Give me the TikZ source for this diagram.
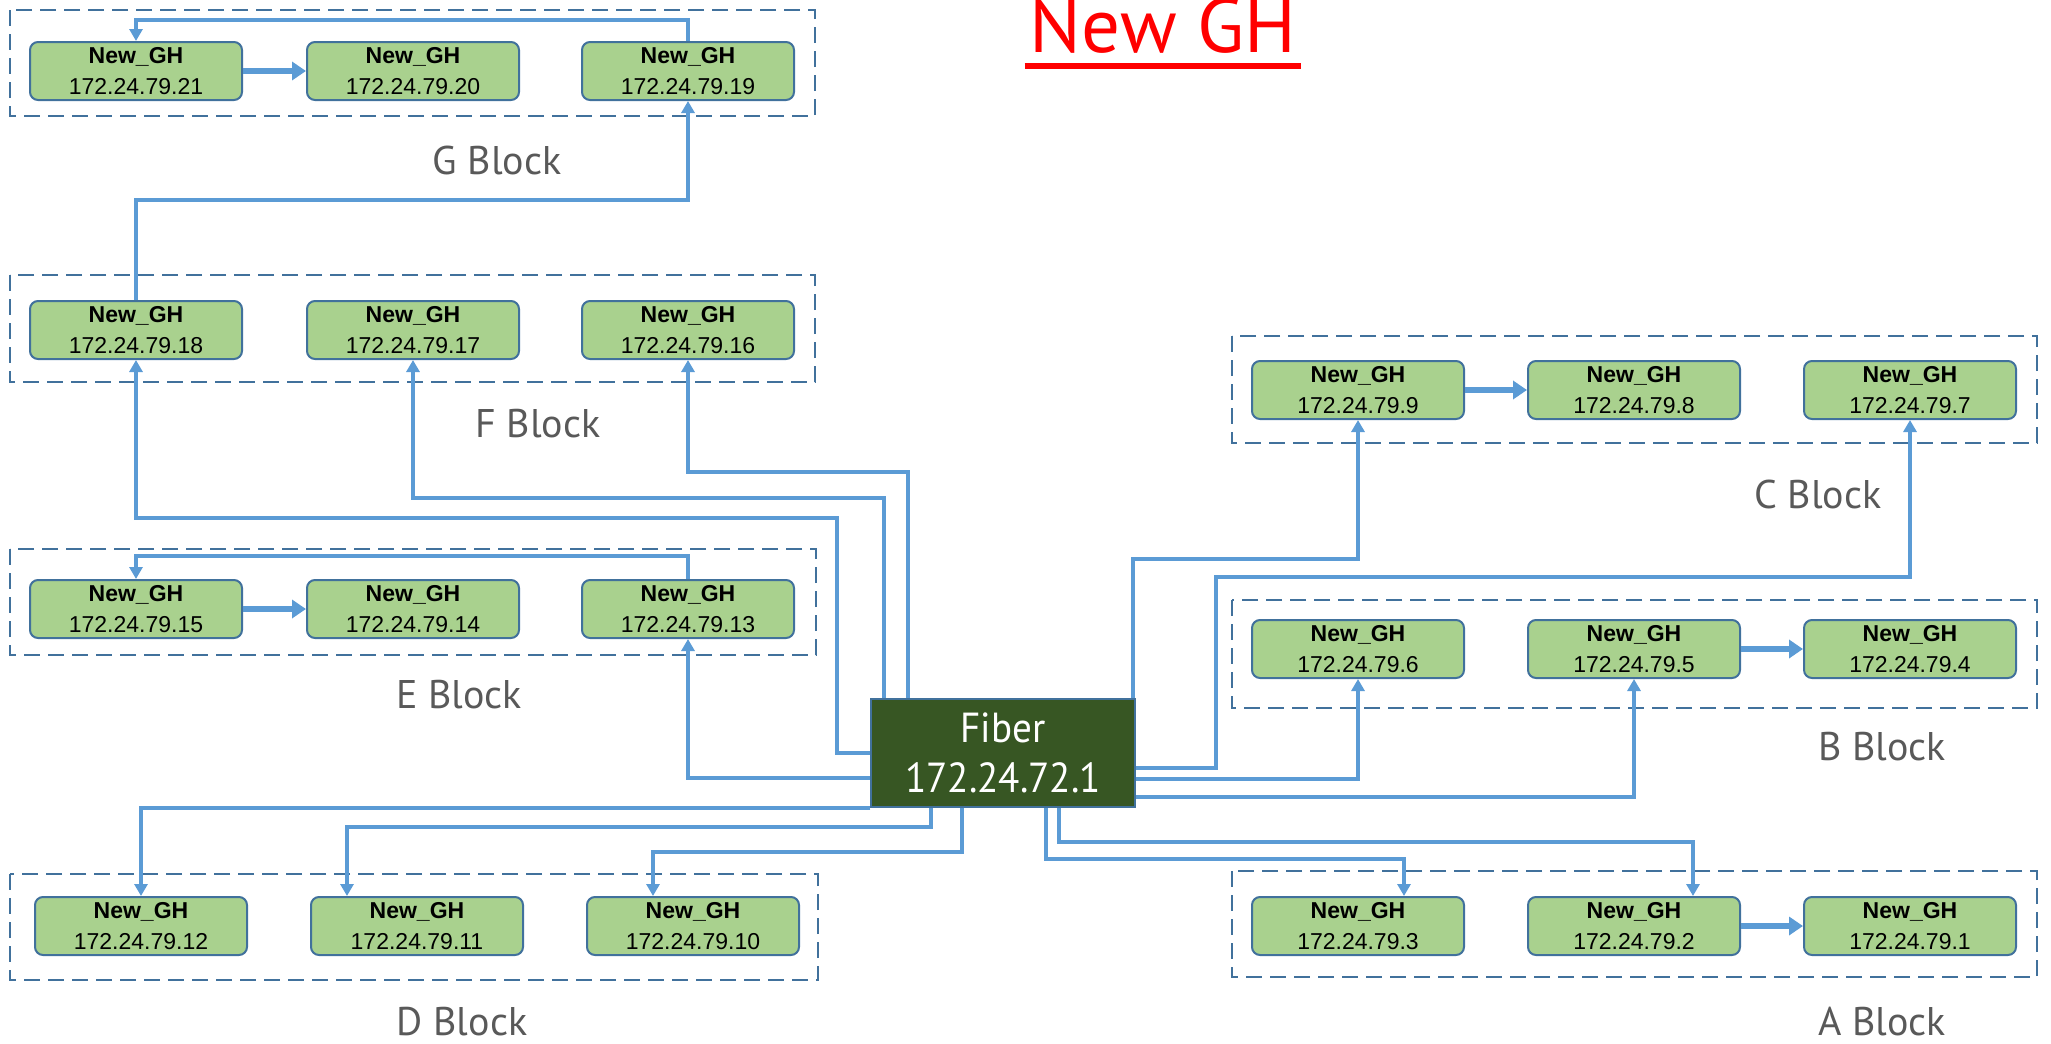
\documentclass[tikz,border=0pt]{standalone}
\usepackage{fontspec}
\usepackage{graphicx}
\setmainfont{Liberation Sans}
\newfontfamily\ptsans{PT Sans}
\usetikzlibrary{arrows.meta}
\definecolor{boxfill}{HTML}{A9D18E}
\definecolor{boxline}{HTML}{41719C}
\definecolor{linkblue}{HTML}{5B9BD5}
\definecolor{fibergreen}{HTML}{375623}
\definecolor{labelgray}{HTML}{595959}
\begin{document}
\begin{tikzpicture}[x=0.5pt,y=-0.5pt,
  gh/.style={draw=boxline, line width=1pt, fill=boxfill, rounded corners=4pt, minimum width=106pt, minimum height=29pt, inner sep=0pt, align=center, font=\fontsize{11.5}{15.5}\selectfont},
  blockbox/.style={draw=boxline, line width=1.3pt, dash pattern=on 8pt off 4pt},
  blocklabel/.style={text=labelgray, font=\ptsans\fontsize{20}{24}\selectfont},
  link/.style={draw=linkblue, line width=2pt, -{Triangle[length=6pt,width=6.5pt]}},
  rowlink/.style={draw=linkblue, line width=2.8pt, -{Triangle[length=7pt,width=9pt]}},
]
\useasboundingbox (0,0) rectangle (2051,1044);
% title
\node[text=red, font=\ptsans\fontsize{38.5}{40}\selectfont, inner sep=0pt, anchor=base] (title) at (1163,53) {New GH};
\draw[red, line width=3pt] ([xshift=-2.5pt,yshift=-6.5pt]title.base west) -- ([xshift=2.5pt,yshift=-6.5pt]title.base east);
% block frames
\draw[blockbox] (10,10) rectangle (815,116);
\draw[blockbox] (10,275) rectangle (815,382);
\draw[blockbox] (10,549) rectangle (816,655);
\draw[blockbox] (10,874) rectangle (818,980);
\draw[blockbox] (1232,336) rectangle (2037,443);
\draw[blockbox] (1232,600) rectangle (2037,708);
\draw[blockbox] (1232,871) rectangle (2037,977);
% block labels
\node[blocklabel] (lG) at (497,160) {G Block};
\node[blocklabel] (lF) at (538,424) {F Block};
\node[blocklabel] (lE) at (459,695) {E Block};
\node[blocklabel] (lD) at (462,1022) {D Block};
\node[blocklabel] (lC) at (1818,494) {C Block};
\node[blocklabel] (lB) at (1882,747) {B Block};
\node[blocklabel] (lA) at (1882,1022) {A Block};
% nodes
\node[gh] (G21) at (136,71) {\textbf{New\_GH}\\172.24.79.21};
\node[gh] (G20) at (413,71) {\textbf{New\_GH}\\172.24.79.20};
\node[gh] (G19) at (688,71) {\textbf{New\_GH}\\172.24.79.19};
\node[gh] (F18) at (136,330) {\textbf{New\_GH}\\172.24.79.18};
\node[gh] (F17) at (413,330) {\textbf{New\_GH}\\172.24.79.17};
\node[gh] (F16) at (688,330) {\textbf{New\_GH}\\172.24.79.16};
\node[gh] (E15) at (136,609) {\textbf{New\_GH}\\172.24.79.15};
\node[gh] (E14) at (413,609) {\textbf{New\_GH}\\172.24.79.14};
\node[gh] (E13) at (688,609) {\textbf{New\_GH}\\172.24.79.13};
\node[gh] (D12) at (141,926) {\textbf{New\_GH}\\172.24.79.12};
\node[gh] (D11) at (417,926) {\textbf{New\_GH}\\172.24.79.11};
\node[gh] (D10) at (693,926) {\textbf{New\_GH}\\172.24.79.10};
\node[gh] (C9) at (1358,390) {\textbf{New\_GH}\\172.24.79.9};
\node[gh] (C8) at (1634,390) {\textbf{New\_GH}\\172.24.79.8};
\node[gh] (C7) at (1910,390) {\textbf{New\_GH}\\172.24.79.7};
\node[gh] (B6) at (1358,649) {\textbf{New\_GH}\\172.24.79.6};
\node[gh] (B5) at (1634,649) {\textbf{New\_GH}\\172.24.79.5};
\node[gh] (B4) at (1910,649) {\textbf{New\_GH}\\172.24.79.4};
\node[gh] (A3) at (1358,926) {\textbf{New\_GH}\\172.24.79.3};
\node[gh] (A2) at (1634,926) {\textbf{New\_GH}\\172.24.79.2};
\node[gh] (A1) at (1910,926) {\textbf{New\_GH}\\172.24.79.1};
\node[draw=boxline, line width=0.6pt, fill=fibergreen, text=white, minimum width=132pt, minimum height=54pt, inner sep=0pt, align=center, font=\ptsans\fontsize{21}{25}\selectfont] (Fiber) at (1003,753) {\scalebox{0.93}[1]{Fiber}\\\scalebox{0.93}[1]{172.24.72.1}};
% levels
\coordinate (yG) at (0,20);
\coordinate (yGF) at (0,200);
\coordinate (yF16) at (0,472);
\coordinate (yF17) at (0,498);
\coordinate (yF18) at (0,518);
\coordinate (yE) at (0,556);
\coordinate (yC9) at (0,559);
\coordinate (yC7) at (0,577);
\coordinate (yD11) at (0,827);
\coordinate (yD10) at (0,852);
\coordinate (yA2) at (0,842);
\coordinate (yA3) at (0,859);
\coordinate (xF18) at (837,0);
\coordinate (xC7) at (1216,0);
\coordinate (xD11) at (347,0);
\coordinate (xD10) at (653,0);
\coordinate (xA3) at (1404,0);
\coordinate (xA2) at (1693,0);
% connectors
\draw[link] (G19.north) -- (G19.north |- yG) -| (G21.north);
\draw[rowlink] (G21.east) -- (G20.west);
\draw[link] (F18.north) -- (F18.north |- yGF) -| (G19.south);
\draw[link] (Fiber.west) -| (xF18 |- yF18) -| (F18.south);
\draw[link] ([xshift=7pt]Fiber.north west) |- (F17.south |- yF17) -- (F17.south);
\draw[link] ([xshift=19pt]Fiber.north west) |- (F16.south |- yF16) -- (F16.south);
\draw[link] (E13.north) -- (E13.north |- yE) -| (E15.north);
\draw[rowlink] (E15.east) -- (E14.west);
\draw[link] ([yshift=-12.5pt]Fiber.west) -| (E13.south);
\draw[link] (Fiber.south west) -| (D12.north);
\draw[link] ([xshift=30.5pt]Fiber.south west) |- (xD11 |- yD11) -- (xD11 |- D11.north);
\draw[link] ([xshift=46pt]Fiber.south west) |- (xD10 |- yD10) -- (xD10 |- D10.north);
\draw[link] ([xshift=88pt]Fiber.south west) |- (xA3 |- yA3) -- (xA3 |- A3.north);
\draw[link] ([xshift=94.5pt]Fiber.south west) |- (xA2 |- yA2) -- (xA2 |- A2.north);
\draw[rowlink] (A2.east) -- (A1.west);
\draw[link] ([xshift=-1.5pt]Fiber.north east) |- (C9.south |- yC9) -- (C9.south);
\draw[link] ([yshift=-7.5pt]Fiber.east) -| (xC7 |- yC7) -| (C7.south);
\draw[link] ([yshift=-13pt]Fiber.east) -| (B6.south);
\draw[link] ([yshift=-22pt]Fiber.east) -| (B5.south);
\draw[rowlink] (C9.east) -- (C8.west);
\draw[rowlink] (B5.east) -- (B4.west);
\end{tikzpicture}
\end{document}
